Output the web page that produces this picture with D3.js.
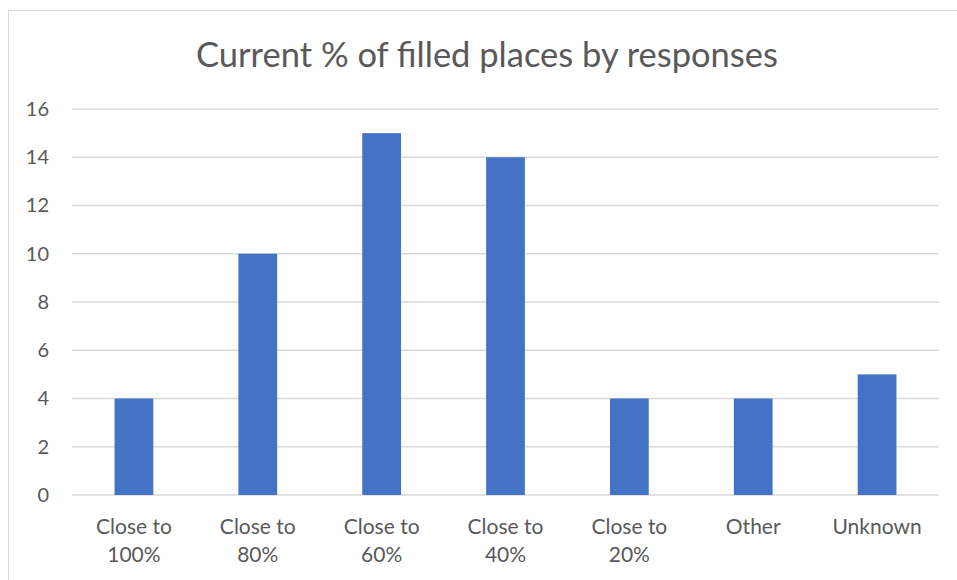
<!DOCTYPE html>
<html>
<head>
<meta charset="utf-8">
<script src="https://cdn.jsdelivr.net/npm/d3@7"></script>
<style>
  html, body { margin: 0; padding: 0; background: #fff; }
  svg { display: block; }
</style>
</head>
<body>
<svg id="chart" width="957" height="580"></svg>
<script>
const categories = ["Close to\n100%", "Close to\n80%", "Close to\n60%", "Close to\n40%", "Close to\n20%", "Other", "Unknown"];
const values = [4, 10, 15, 14, 4, 4, 5];
const yTicks = [0, 2, 4, 6, 8, 10, 12, 14, 16];
const title = "Current % of filled places by responses";

const svg = d3.select("#chart");
const font = "Lato, 'Open Sans', sans-serif";
const textColor = "#595959";

// Chart frame
svg.append("rect")
  .attr("x", 8.5).attr("y", 10.5)
  .attr("width", 960).attr("height", 600)
  .attr("fill", "none").attr("stroke", "#d9d9d9");

const plot = { left: 72, right: 939, top: 109, bottom: 495 };

const x = d3.scaleBand()
  .domain(categories)
  .range([plot.left, plot.right])
  .paddingInner(0.687)
  .paddingOuter(0.3435);

const y = d3.scaleLinear()
  .domain([0, 16])
  .range([plot.bottom, plot.top]);

// Gridlines
svg.append("g")
  .selectAll("line")
  .data(yTicks)
  .join("line")
  .attr("x1", plot.left).attr("x2", plot.right)
  .attr("y1", d => y(d)).attr("y2", d => y(d))
  .attr("stroke", "#d9d9d9").attr("stroke-width", 1.3);

// Y axis labels
const yAxis = d3.axisLeft(y).tickValues(yTicks).tickSize(0).tickPadding(0);
svg.append("g")
  .attr("transform", `translate(${plot.left - 23},0)`)
  .call(yAxis)
  .call(g => g.select(".domain").remove())
  .selectAll("text")
  .attr("font-family", font)
  .attr("font-size", 20)
  .attr("fill", textColor);

// Bars
svg.append("g")
  .selectAll("rect")
  .data(values)
  .join("rect")
  .attr("x", (d, i) => x(categories[i]))
  .attr("width", x.bandwidth())
  .attr("y", d => y(d))
  .attr("height", d => y(0) - y(d))
  .attr("fill", "#4472c4");

// X axis labels (two-line)
const xAxis = d3.axisBottom(x).tickSize(0).tickFormat(() => "");
const xg = svg.append("g")
  .attr("transform", `translate(0,${plot.bottom})`)
  .call(xAxis);
xg.select(".domain").remove();
xg.selectAll(".tick").each(function(d) {
  const lines = d.split("\n");
  const t = d3.select(this).append("text")
    .attr("text-anchor", "middle")
    .attr("font-family", font)
    .attr("font-size", 21)
    .attr("fill", textColor);
  lines.forEach((ln, i) => {
    t.append("tspan").attr("x", 0).attr("y", 39 + i * 28).text(ln);
  });
});

// Title
svg.append("text")
  .attr("x", 487).attr("y", 67)
  .attr("text-anchor", "middle")
  .attr("font-family", font)
  .attr("font-size", 34.5)
  .attr("fill", textColor)
  .text(title);
</script>
</body>
</html>
